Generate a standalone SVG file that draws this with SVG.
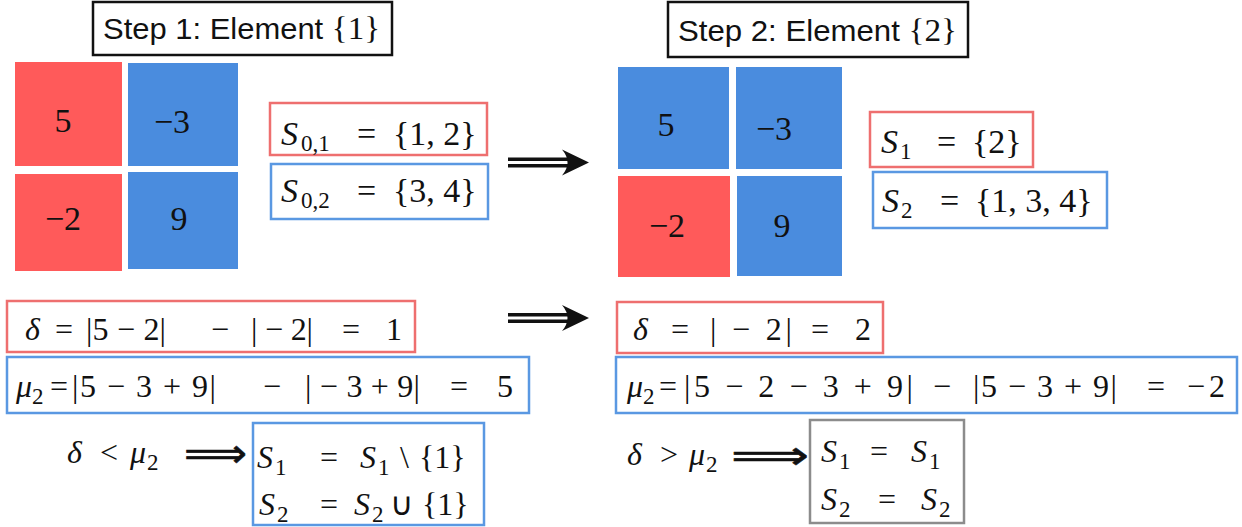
<svg xmlns="http://www.w3.org/2000/svg" width="1242" height="527" viewBox="0 0 1242 527">
<style>
.bg{fill:#fff}
.red{fill:#FF5A5A}
.blue{fill:#4A8CDE}
.num{font-family:'Liberation Serif',serif;font-size:34px;text-anchor:middle;fill:#111}
.stepbox{fill:#fff;stroke:#111;stroke-width:2.5}
.steptxt{font-family:'Liberation Sans',Arial,sans-serif;font-size:30px;fill:#111}
.ser{font-family:'Liberation Serif',serif;font-size:32px}
.rbox{fill:#fff;stroke:#EE6F6F;stroke-width:2.5}
.bbox{fill:#fff;stroke:#5A98E2;stroke-width:2.5}
.gbox{fill:#fff;stroke:#8C8C8C;stroke-width:2.5}
.m{font-family:'Liberation Serif',serif;font-size:32px;fill:#111}
.ms{font-family:'Liberation Serif',serif;font-size:34px;fill:#111}
.i{font-style:italic}
.sub{font-size:23px}
.imp{font-family:'DejaVu Sans',sans-serif;font-size:40px;fill:#111;stroke:#111;stroke-width:0.6}
.shaft{stroke:#111;stroke-width:3.5;fill:none}
.head{fill:#111}
</style>
<rect class="bg" x="0" y="0" width="1242" height="527"/>

<g id="step1-title">
<rect class="stepbox" x="93" y="2" width="299" height="53"/>
<text class="steptxt" x="103" y="39" textLength="277" lengthAdjust="spacingAndGlyphs">Step 1: Element <tspan class="ser">{1}</tspan></text>
</g>
<g id="s1-cell1"><rect class="red" x="15" y="62" width="107" height="104"/><text class="num" x="63" y="132">5</text></g>
<g id="s1-cell2"><rect class="blue" x="128" y="63" width="110" height="103"/><text class="num" x="172" y="133">−3</text></g>
<g id="s1-cell3"><rect class="red" x="15" y="174" width="107" height="97"/><text class="num" x="63" y="230">−2</text></g>
<g id="s1-cell4"><rect class="blue" x="128" y="172" width="110" height="97"/><text class="num" x="179" y="230">9</text></g>

<g id="s01">
<rect class="rbox" x="270" y="103" width="217" height="52"/>
<text class="ms" y="145"><tspan class="i" x="281">S</tspan><tspan class="sub" x="301" y="151">0,1</tspan><tspan x="357" y="145">=</tspan><tspan x="393">{1, 2}</tspan></text>
</g>
<g id="s02">
<rect class="bbox" x="271" y="164" width="217" height="55"/>
<text class="ms" y="202"><tspan class="i" x="281">S</tspan><tspan class="sub" x="301" y="208">0,2</tspan><tspan x="357" y="202">=</tspan><tspan x="393">{3, 4}</tspan></text>
</g>

<g id="delta1">
<rect class="rbox" x="7" y="301" width="408" height="51"/>
<text class="m" y="340"><tspan class="i" x="25">δ</tspan><tspan x="55">=</tspan><tspan x="86" textLength="80" lengthAdjust="spacing">|5 − 2|</tspan><tspan x="211">−</tspan><tspan x="251" textLength="62" lengthAdjust="spacing">| − 2|</tspan><tspan x="342">=</tspan><tspan x="386">1</tspan></text>
</g>
<g id="mu1">
<rect class="bbox" x="7" y="357" width="522" height="56"/>
<text class="m" y="397"><tspan class="i" x="16">μ</tspan><tspan class="sub" x="32" y="404">2</tspan><tspan x="50" y="397">=</tspan><tspan x="72" textLength="144" lengthAdjust="spacing">|5 − 3 + 9|</tspan><tspan x="263">−</tspan><tspan x="305" textLength="115" lengthAdjust="spacing">| − 3 + 9|</tspan><tspan x="450">=</tspan><tspan x="497">5</tspan></text>
</g>

<g id="cond1">
<text class="m" y="463"><tspan class="i" x="67">δ</tspan><tspan x="100">&lt;</tspan><tspan class="i" x="130">μ</tspan><tspan class="sub" x="147" y="470">2</tspan></text>
<text class="imp" x="184" y="467" textLength="63" lengthAdjust="spacingAndGlyphs">⟹</text>
</g>
<g id="update1">
<rect class="bbox" x="253" y="423" width="231" height="102"/>
<text class="m" y="468"><tspan class="i" x="257">S</tspan><tspan class="sub" x="275" y="475">1</tspan><tspan x="320" y="468">=</tspan><tspan class="i" x="360">S</tspan><tspan class="sub" x="378" y="475">1</tspan><tspan x="400" y="468">\</tspan><tspan x="419">{1}</tspan></text>
<text class="m" y="515"><tspan class="i" x="259">S</tspan><tspan class="sub" x="277" y="522">2</tspan><tspan x="320" y="515">=</tspan><tspan class="i" x="354">S</tspan><tspan class="sub" x="372" y="522">2</tspan><tspan x="390" y="515">∪</tspan><tspan x="422">{1}</tspan></text>
</g>

<g id="step2-title">
<rect class="stepbox" x="668" y="2" width="300" height="55"/>
<text class="steptxt" x="678" y="41" textLength="279" lengthAdjust="spacingAndGlyphs">Step 2: Element <tspan class="ser">{2}</tspan></text>
</g>
<g id="s2-cell1"><rect class="blue" x="618" y="67" width="111" height="102"/><text class="num" x="666" y="136">5</text></g>
<g id="s2-cell2"><rect class="blue" x="736" y="67" width="106" height="102"/><text class="num" x="774" y="140">−3</text></g>
<g id="s2-cell3"><rect class="red" x="618" y="176" width="112" height="101"/><text class="num" x="667" y="237">−2</text></g>
<g id="s2-cell4"><rect class="blue" x="737" y="176" width="105" height="100"/><text class="num" x="782" y="237">9</text></g>

<g id="s1set">
<rect class="rbox" x="870" y="112" width="163" height="55"/>
<text class="ms" y="153"><tspan class="i" x="881">S</tspan><tspan class="sub" x="900" y="159">1</tspan><tspan x="937" y="153">=</tspan><tspan x="972">{2}</tspan></text>
</g>
<g id="s2set">
<rect class="bbox" x="873" y="172" width="234" height="56"/>
<text class="ms" y="212"><tspan class="i" x="882">S</tspan><tspan class="sub" x="901" y="218">2</tspan><tspan x="940" y="212">=</tspan><tspan x="975">{1, 3, 4}</tspan></text>
</g>

<g id="delta2">
<rect class="rbox" x="617" y="302" width="266" height="51"/>
<text class="m" y="340"><tspan class="i" x="633">δ</tspan><tspan x="671">=</tspan><tspan x="710" textLength="82" lengthAdjust="spacing">| − 2|</tspan><tspan x="811">=</tspan><tspan x="855">2</tspan></text>
</g>
<g id="mu2">
<rect class="bbox" x="616" y="357" width="621" height="56"/>
<text class="m" y="397"><tspan class="i" x="627">μ</tspan><tspan class="sub" x="643" y="404">2</tspan><tspan x="659" y="397">=</tspan><tspan x="684" textLength="229" lengthAdjust="spacing">|5 − 2 − 3 + 9|</tspan><tspan x="933">−</tspan><tspan x="973" textLength="144" lengthAdjust="spacing">|5 − 3 + 9|</tspan><tspan x="1147">=</tspan><tspan x="1187" textLength="38" lengthAdjust="spacing">− 2</tspan></text>
</g>

<g id="cond2">
<text class="m" y="465"><tspan class="i" x="627">δ</tspan><tspan x="660">&gt;</tspan><tspan class="i" x="689">μ</tspan><tspan class="sub" x="706" y="472">2</tspan></text>
<text class="imp" x="731" y="469" textLength="78" lengthAdjust="spacingAndGlyphs">⟹</text>
</g>
<g id="update2">
<rect class="gbox" x="810" y="420" width="154" height="103"/>
<text class="m" y="462"><tspan class="i" x="821">S</tspan><tspan class="sub" x="839" y="469">1</tspan><tspan x="870" y="462">=</tspan><tspan class="i" x="911">S</tspan><tspan class="sub" x="929" y="469">1</tspan></text>
<text class="m" y="510"><tspan class="i" x="821">S</tspan><tspan class="sub" x="839" y="517">2</tspan><tspan x="878" y="510">=</tspan><tspan class="i" x="921">S</tspan><tspan class="sub" x="939" y="517">2</tspan></text>
</g>

<g id="connectors">
<g id="arrow-top">
<line class="shaft" x1="508" y1="159.3" x2="574" y2="159.3"/>
<line class="shaft" x1="508" y1="165.7" x2="574" y2="165.7"/>
<path class="head" d="M589,162.5 L562,149.5 Q573,162.5 562,175.5 Z"/>
</g>
<g id="arrow-bottom">
<line class="shaft" x1="508" y1="314.8" x2="574" y2="314.8"/>
<line class="shaft" x1="508" y1="321.2" x2="574" y2="321.2"/>
<path class="head" d="M589,318 L562,305 Q573,318 562,331 Z"/>
</g>
</g>
</svg>
